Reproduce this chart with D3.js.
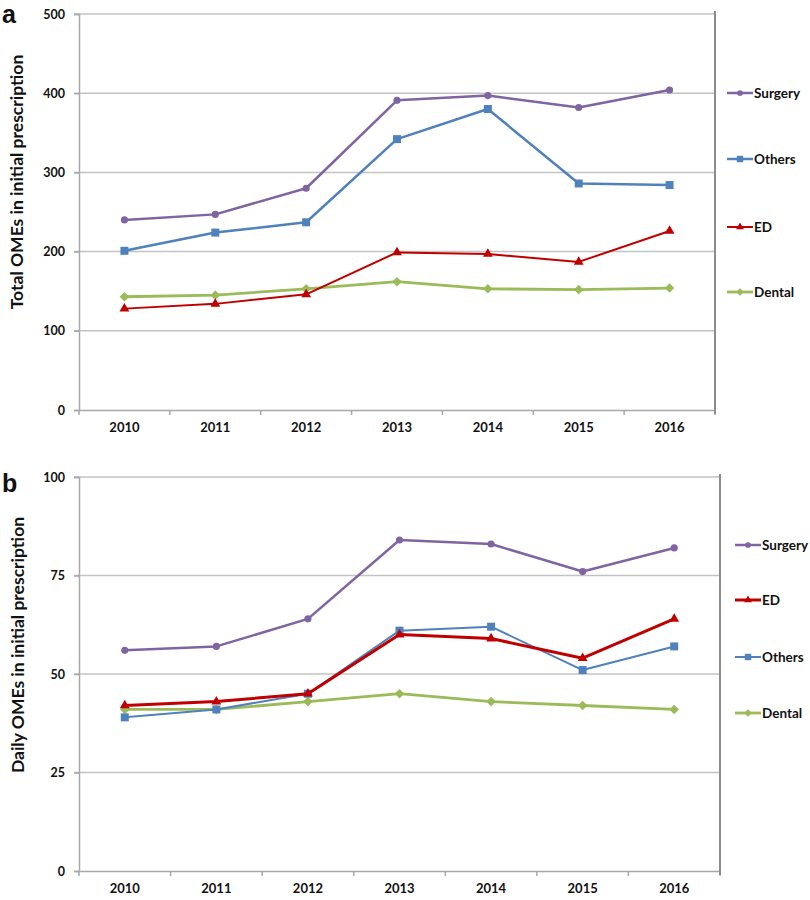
<!DOCTYPE html>
<html><head><meta charset="utf-8">
<script src="https://cdn.jsdelivr.net/npm/d3@7"></script>
<style>body{margin:0;background:#fff}svg{display:block}</style>
</head><body><svg id="c" width="810" height="900"></svg>
<script>
// ---- data ----
const years = ["2010","2011","2012","2013","2014","2015","2016"];
const totalSurgery = [240, 247, 280, 391, 397, 382, 404];
const totalOthers  = [201, 224, 237, 342, 380, 286, 284];
const totalED      = [128, 134, 146, 199, 197, 187, 226];
const totalDental  = [143, 145, 153, 162, 153, 152, 154];
const dailySurgery = [56, 57, 64, 84, 83, 76, 82];
const dailyED      = [42, 43, 45, 60, 59, 54, 64];
const dailyOthers  = [39, 41, 45, 61, 62, 51, 57];
const dailyDental  = [41, 41, 43, 45, 43, 42, 41];
const totalTicks = [0, 100, 200, 300, 400, 500];
const dailyTicks = [0, 25, 50, 75, 100];
const totalLegend = ["Surgery", "Others", "ED", "Dental"];
const dailyLegend = ["Surgery", "ED", "Others", "Dental"];
const totalTitle = "Total OMEs in initial prescription";
const dailyTitle = "Daily OMEs in initial prescription";

// ---- styles ----
const colors = {Surgery:"#8064A2", Others:"#4F81BD", ED:"#C00000", Dental:"#9BBB59"};
const shapes = {Surgery:"circle", Others:"square", ED:"triangle", Dental:"diamond"};
const FONT = "Lato, 'Open Sans', sans-serif";

const svg = d3.select("#c");

function markerPath(shape, s) {
  if (shape === "circle") return d3.symbol(d3.symbolCircle, 40*s*s)();
  if (shape === "square") return d3.symbol(d3.symbolSquare, 64*s*s)();
  if (shape === "triangle") return d3.symbol(d3.symbolTriangle, 42*s*s)();
  const h = 4.8*s;
  return `M0,${-h}L${h},0L0,${h}L${-h},0Z`;
}

function panel(cfg) {
  const g = svg.append("g");
  const x = d3.scaleBand().domain(years).range([cfg.left, cfg.right]);
  const y = d3.scaleLinear().domain([0, cfg.ymax]).range([cfg.bottom, cfg.top]);

  g.selectAll("line.grid").data(cfg.ticks.filter(t => t > 0)).join("line")
    .attr("x1", cfg.left - 5).attr("x2", cfg.right)
    .attr("y1", d => y(d)).attr("y2", d => y(d))
    .attr("stroke", "#c3c3c3").attr("stroke-width", 1.5);

  const ya = d3.axisLeft(y).tickValues(cfg.ticks).tickSize(5).tickPadding(9);
  const yg = g.append("g").attr("transform", `translate(${cfg.left},0)`).call(ya);
  yg.select(".domain").attr("stroke", "#a8a8a8").attr("stroke-width", 1.5);
  yg.selectAll(".tick line").attr("stroke", "#a8a8a8").attr("stroke-width", 1.5);
  yg.selectAll(".tick text").attr("font-family", FONT).attr("font-weight", "bold")
    .attr("font-size", 12.5).attr("fill", "#111");

  const xa = d3.axisBottom(x).tickSize(0).tickPadding(13);
  const xg = g.append("g").attr("transform", `translate(0,${cfg.bottom})`).call(xa);
  xg.select(".domain").attr("stroke", "#a8a8a8").attr("stroke-width", 1.5);
  xg.selectAll(".tick text").attr("font-family", FONT).attr("font-weight", "bold")
    .attr("font-size", 13).attr("fill", "#111");
  const bounds = years.map(yr => x(yr)).concat([cfg.right]);
  g.selectAll("line.xt").data(bounds).join("line")
    .attr("x1", d => d).attr("x2", d => d)
    .attr("y1", cfg.bottom).attr("y2", cfg.bottom + 5)
    .attr("stroke", "#a8a8a8").attr("stroke-width", 1.5);

  g.append("line").attr("x1", cfg.right).attr("x2", cfg.right)
    .attr("y1", cfg.top - 3).attr("y2", cfg.bottom + 4)
    .attr("stroke", "#8c8c8c").attr("stroke-width", 2);

  g.append("text").attr("transform", `translate(${cfg.titleX},${cfg.titleY}) rotate(-90)`)
    .attr("text-anchor", "middle").attr("font-family", FONT).attr("font-weight", "bold")
    .attr("font-size", 17.5).attr("fill", "#111").text(cfg.title);

  g.append("text").attr("x", 2).attr("y", cfg.letterY)
    .attr("font-family", "'Liberation Sans', Arial, sans-serif").attr("font-weight", "bold")
    .attr("font-size", 25).attr("fill", "#111").text(cfg.letter);

  const cx = d => x(d) + x.bandwidth() / 2;

  cfg.series.slice().reverse().forEach(s => {
    const pts = years.map((yr, i) => [cx(yr), y(s.values[i])]);
    g.append("path").attr("d", d3.line()(pts)).attr("fill", "none")
      .attr("stroke", colors[s.name]).attr("stroke-width", s.width)
      .attr("stroke-linejoin", "round");
    g.selectAll(null).data(pts).join("path")
      .attr("transform", p => `translate(${p[0]},${p[1]})`)
      .attr("d", markerPath(shapes[s.name], 1)).attr("fill", colors[s.name]);
  });

  cfg.legend.forEach((name, i) => {
    const ly = cfg.legendY[i];
    const s = cfg.series.find(q => q.name === name);
    g.append("line").attr("x1", cfg.legX).attr("x2", cfg.legX + 26)
      .attr("y1", ly).attr("y2", ly).attr("stroke", colors[name]).attr("stroke-width", s.width);
    g.append("path").attr("transform", `translate(${cfg.legX + 13},${ly})`)
      .attr("d", markerPath(shapes[name], 0.8)).attr("fill", colors[name]);
    g.append("text").attr("x", cfg.legX + 27).attr("y", ly).attr("dy", "0.35em")
      .attr("font-family", FONT).attr("font-weight", "bold").attr("font-size", 13.5)
      .attr("fill", "#111").text(name);
  });
}

panel({
  left: 79, right: 715, top: 14, bottom: 410, ymax: 500, ticks: totalTicks,
  title: totalTitle, titleX: 23, titleY: 182, letter: "a", letterY: 23,
  legend: totalLegend, legendY: [93, 159, 227, 292], legX: 727,
  series: [
    {name: "Surgery", values: totalSurgery, width: 2.5},
    {name: "Others", values: totalOthers, width: 2.5},
    {name: "ED", values: totalED, width: 2},
    {name: "Dental", values: totalDental, width: 2.8}
  ]
});

panel({
  left: 79, right: 720, top: 477, bottom: 871, ymax: 100, ticks: dailyTicks,
  title: dailyTitle, titleX: 24, titleY: 645, letter: "b", letterY: 492,
  legend: dailyLegend, legendY: [545, 600, 657, 713], legX: 735,
  series: [
    {name: "Surgery", values: dailySurgery, width: 2.5},
    {name: "ED", values: dailyED, width: 3},
    {name: "Others", values: dailyOthers, width: 2},
    {name: "Dental", values: dailyDental, width: 2.8}
  ]
});
</script>
</body></html>
